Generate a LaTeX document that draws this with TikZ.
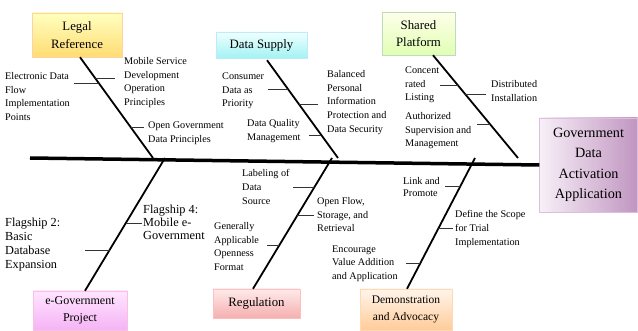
\documentclass[tikz,border=0pt]{standalone}
\usepackage{fontspec}
\setmainfont{Liberation Serif}

\tikzset{
  cause/.style={draw, align=center, inner sep=1pt, font=\fontsize{12.8}{17.5}\selectfont},
  item/.style={anchor=north west, align=left, inner sep=0pt, font=\fontsize{10.2}{13.6}\selectfont},
  bigitem/.style={anchor=north west, align=left, inner sep=0pt, font=\fontsize{12.3}{14}\selectfont},
  spine/.style={line width=3.5pt},
  bone/.style={line width=1.8pt},
  twig/.style={line width=0.8pt, black!80}
}

\begin{document}
\begin{tikzpicture}[x=1pt,y=-1pt]
    \useasboundingbox (0,0) rectangle (638,331);
    % effect and causes
    \node[cause, minimum width=98pt, minimum height=94pt, draw=violet!25,
      left color=violet!6, right color=violet!40!white!85!gray,
      font=\fontsize{14.2}{20.5}\selectfont] (gov) at (588.5,165)
      {Government\\Data\\Activation\\Application};
    \node[cause, minimum width=90pt, minimum height=44pt, draw=orange!35,
      top color=yellow!25, bottom color=orange!50!yellow!55] (legal) at (77,35) {Legal\\Reference};
    \node[cause, minimum width=91pt, minimum height=26pt, draw=cyan!25,
      top color=cyan!6, bottom color=cyan!35!white!90!gray] (supply) at (261.5,45) {Data Supply};
    \node[cause, minimum width=73pt, minimum height=43pt, draw=green!30!gray!40,
      top color=green!5!yellow!8, bottom color=green!40!yellow!30] (shared) at (418.5,33.5) {Shared\\Platform};
    \node[cause, minimum width=94pt, minimum height=39pt, draw=magenta!25,
      top color=magenta!10, bottom color=magenta!28!white!92!gray, font=\fontsize{12}{17.5}\selectfont] (egov) at (80,310.5) {e-Government\\Project};
    \node[cause, minimum width=87pt, minimum height=29pt, draw=red!25,
      top color=red!8, bottom color=red!30!white!92!gray] (regul) at (256.5,303.5) {Regulation};
    \node[cause, minimum width=92pt, minimum height=41pt, draw=orange!30,
      top color=orange!8, bottom color=orange!40, font=\fontsize{11.5}{17}\selectfont] (demo) at (406,309.5) {Demonstration\\and Advocacy};

    % spine and joints
    \coordinate (tail) at (30,158);
    \coordinate (jl) at (153,158);
    \coordinate (js) at (338,158);
    \coordinate (jp) at (518,158);
    \coordinate (je) at (165,158);
    \coordinate (jr) at (332,158);
    \coordinate (jd) at (475,158);
    \draw[spine] (tail) -- (gov.west);
    \draw[bone] ([xshift=3pt]legal.south) -- (jl);
    \draw[bone] ([xshift=5.5pt,yshift=-2pt]supply.south) -- (js);
    \draw[bone] ([xshift=14.5pt]shared.south) -- (jp);
    \draw[bone] ([xshift=5pt]egov.north) -- (je);
    \draw[bone] ([xshift=-3.5pt]regul.north) -- (jr);
    \draw[bone] ([xshift=1pt]demo.north) -- (jd);

    % legal reference
    \node[item] (elec) at (5,72.5) {Electronic Data\\Flow\\Implementation\\Points};
    \node[item] (mobsvc) at (124,57.5) {Mobile Service\\Development\\Operation\\Principles};
    \node[item] (opengov) at (148,121.5) {Open Government\\Data Principles};
    \coordinate (l1) at (98.8,83);
    \coordinate (l2) at (95.2,78);
    \coordinate (l3) at (130.6,127);
    \draw[twig] (l1) -- +(-25,0) (l2) -- +(20,0) (l3) -- +(13,0);

    % data supply
    \node[item] (consumer) at (222,72.5) {Consumer\\Data as\\Priority};
    \node[item] (balanced) at (327,70.5) {Balanced\\Personal\\Information\\Protection and\\Data Security};
    \node[item] (quality) at (247,119.5) {Data Quality\\Management};
    \coordinate (s1) at (288,89);
    \coordinate (s2) at (298.9,104);
    \coordinate (s3) at (321.3,135);
    \draw[twig] (s1) -- +(-20,0) (s2) -- +(19,0) (s3) -- +(-12,0);

    % shared platform
    \node[item] (concent) at (405,66.5) {Concent\\rated\\Listing};
    \node[item] (distrib) at (491,80.5) {Distributed\\Installation};
    \node[item] (author) at (405,112.5) {Authorized\\Supervision and\\Management};
    \coordinate (p1) at (457.8,85);
    \coordinate (p2) at (465.2,94);
    \coordinate (p3) at (489.9,124);
    \draw[twig] (p1) -- +(-18,0) (p2) -- +(21,0) (p3) -- +(-13,0);

    % e-government project
    \node[bigitem] (flag2) at (5,217.5) {Flagship 2:\\Basic\\Database\\Expansion};
    \node[bigitem, font=\fontsize{12.3}{13}\selectfont] (flag4) at (143,204.5) {Flagship 4:\\Mobile e-\\Government};
    \coordinate (e1) at (110,250);
    \coordinate (e2) at (126.2,223);
    \draw[twig] (e1) -- +(-25,0) (e2) -- +(16,0);

    % regulation
    \node[item] (labeling) at (242,169.5) {Labeling of\\Data\\Source};
    \node[item] (openflow) at (317,197.5) {Open Flow,\\Storage, and\\Retrieval};
    \node[item] (general) at (214,222.5) {Generally\\Applicable\\Openness\\Format};
    \coordinate (r1) at (314.4,187);
    \coordinate (r2) at (297.4,215);
    \coordinate (r3) at (279.1,245);
    \draw[twig] (r1) -- +(-21,0) (r2) -- +(17,0) (r3) -- +(-12,0);

    % demonstration and advocacy
    \node[item, font=\fontsize{10.2}{12}\selectfont] (link) at (403,177.5) {Link and\\Promote};
    \node[item] (scope) at (455,210.5) {Define the Scope\\for Trial\\Implementation};
    \node[item] (encourage) at (332,245.5) {Encourage\\Value Addition\\and Application};
    \coordinate (d1) at (460.4,186);
    \coordinate (d2) at (438.4,228);
    \coordinate (d3) at (420.1,263);
    \draw[twig] (d1) -- +(-15,0) (d2) -- +(15,0) (d3) -- +(-14,0);
  \end{tikzpicture}
\end{document}
